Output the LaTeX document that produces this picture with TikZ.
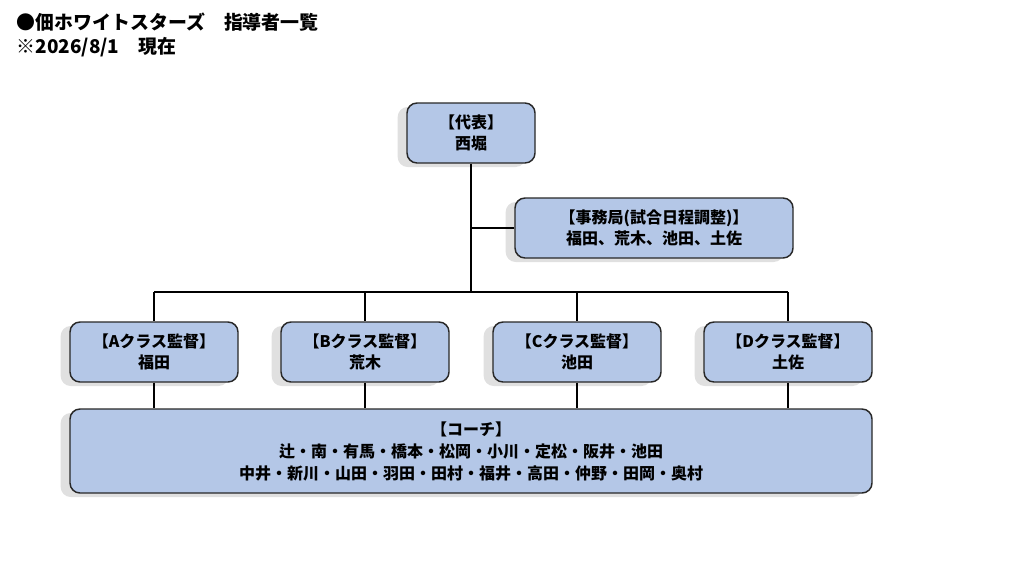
\documentclass[tikz,border=0pt]{standalone}
\usepackage{fontspec}
\setmainfont{Noto Sans CJK JP}
\usepackage{tikz}
\usetikzlibrary{positioning}
\definecolor{boxfill}{RGB}{180,199,231}
\definecolor{boxline}{RGB}{40,40,40}

\begin{document}
\begin{tikzpicture}[x=0.75pt, y=-0.75pt,
                    every node/.style = {text=black, font=\fontsize{12}{15.75}\selectfont\bfseries, align=center},
                    post/.style = {draw=boxline, line width=1.1pt, fill=boxfill, rounded corners=7.5pt,
                                   inner sep=0pt, minimum height=45pt,
                                   preaction={fill=black, fill opacity=.12, draw=none,
                                              transform canvas={xshift=-7pt, yshift=-3pt}}},
                    link/.style = {draw=black, line width=0.8pt}]
                \useasboundingbox (0,0) rectangle (1024,578);
                \node (title) [anchor=north west, font=\fontsize{14.2}{18}\selectfont\bfseries, align=left]
                      at (12,8) {●佃ホワイトスターズ　指導者一覧\\※2026/8/1　現在};
                \node (rep)    [post, minimum width=96pt]    at (471,133) {【代表】\\西堀};
                \node (office) [post, minimum width=208.5pt] at (654,228) {【事務局(試合日程調整)】\\福田、荒木、池田、土佐};
                \node (a) [post, minimum width=126pt] at (154,352) {【Aクラス監督】\\福田};
                \node (b) [post, minimum width=126pt] at (365,352) {【Bクラス監督】\\荒木};
                \node (c) [post, minimum width=126pt] at (577,352) {【Cクラス監督】\\池田};
                \node (d) [post, minimum width=126pt] at (788,352) {【Dクラス監督】\\土佐};
                \node (coach) [post, minimum width=601.5pt, minimum height=63pt,
                               font=\fontsize{12}{16.5}\selectfont\bfseries] at (471,451)
                      {【コーチ】\\辻・南・有馬・橋本・松岡・小川・定松・阪井・池田\\中井・新川・山田・羽田・田村・福井・高田・仲野・田岡・奥村};
                \coordinate (busL) at (a.north |- 0,292);
                \coordinate (busR) at (d.north |- 0,292);
                \draw[link] (rep.south) -- (rep.south |- busL);
                \draw[link] (office.west) -- (office.west -| rep.south);
                \draw[link] (busL) -- (busR);
                \draw[link] (busL) -- (a.north);
                \draw[link] (b.north |- busL) -- (b.north);
                \draw[link] (c.north |- busL) -- (c.north);
                \draw[link] (busR) -- (d.north);
                \draw[link] (a.south) -- (a.south |- coach.north);
                \draw[link] (b.south) -- (b.south |- coach.north);
                \draw[link] (c.south) -- (c.south |- coach.north);
                \draw[link] (d.south) -- (d.south |- coach.north);
            \end{tikzpicture}
\end{document}
